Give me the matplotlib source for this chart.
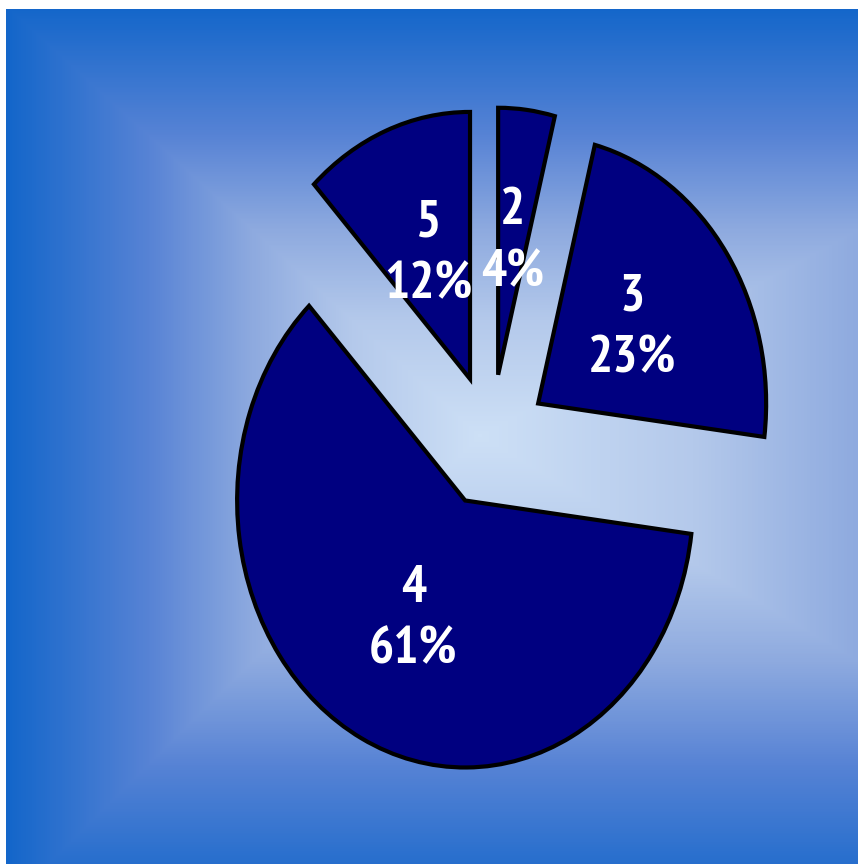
import numpy as np
import matplotlib
matplotlib.use("Agg")
import matplotlib.pyplot as plt
from matplotlib.colors import LinearSegmentedColormap

# --- data -----------------------------------------------------------------
names = ["2", "3", "4", "5"]
shares = [4, 23, 61, 12]

# --- layout (pixels, image coords with y going down) ------------------------
W, H = 858, 864
BG_LEFT, BG_TOP = 6, 9
PIE_CX, PIE_CY = 491, 441
RX, RY = 228, 267

fig = plt.figure(figsize=(W / 100, H / 100), dpi=100, facecolor="white")

# --- gradient background: rectangular "from centre" fill -----------------------
bg = fig.add_axes([BG_LEFT / W, 0, (W - BG_LEFT) / W, (H - BG_TOP) / H])
xs = np.arange(BG_LEFT, W) + 0.5
ys = np.arange(BG_TOP, H) + 0.5
gx, gy = np.meshgrid(xs, ys)
gcx, gcy = 480, 436
u = np.where(gx < gcx, (gcx - gx) / 474, (gx - gcx) / 790)
v = np.where(gy < gcy, (gcy - gy) / 430, (gy - gcy) / 470)
t = np.clip(np.maximum(u, v), 0, 1)
grad = LinearSegmentedColormap.from_list(
    "bg", [(0, "#cde0f6"), (0.27, "#b4c9eb"), (0.48, "#8eaadf"),
           (0.7, "#5783d5"), (1, "#1366ca")])
bg.imshow(grad(t), aspect="auto", interpolation="bilinear")
bg.set_axis_off()

# --- pie --------------------------------------------------------------------
ax = fig.add_axes([0, 0, 1, 1])
ax.patch.set_alpha(0)

name_iter = iter(names)
wedges, texts, autotexts = ax.pie(
    shares,
    explode=[0.25] * len(shares),
    startangle=90,
    counterclock=False,
    colors=["#000080"] * len(shares),
    autopct=lambda p: f"{next(name_iter)}\n{p:.0f}%",
    pctdistance=0.5,
    wedgeprops=dict(edgecolor="black", linewidth=3, joinstyle="miter"),
    textprops=dict(color="white", fontsize=38, fontweight="bold",
                   family=["PT Sans Narrow", "DejaVu Sans"],
                   stretch="condensed", linespacing=1.37),
)
for txt in autotexts:
    txt.set_ha("center")
    txt.set_va("center")
    txt.set_multialignment("center")

ax.set_aspect("auto")
ax.set_xlim(-PIE_CX / RX, (W - PIE_CX) / RX)
ax.set_ylim(-(H - PIE_CY) / RY, PIE_CY / RY)
ax.set_axis_off()

fig.savefig("out.png", dpi=100, facecolor="white")
